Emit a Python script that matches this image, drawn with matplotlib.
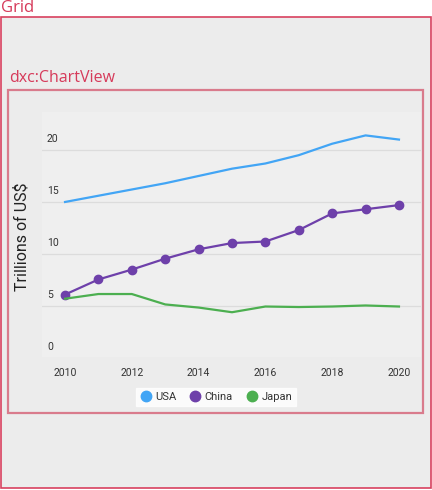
import matplotlib
matplotlib.use("Agg")
import matplotlib.pyplot as plt
from matplotlib.lines import Line2D
from matplotlib.patches import Rectangle
from matplotlib.transforms import ScaledTranslation, blended_transform_factory

# ── Data (trillions of US$) ───────────────────────────────────────────────
years = [2010, 2011, 2012, 2013, 2014, 2015, 2016, 2017, 2018, 2019, 2020]
usa = [15.0, 15.6, 16.2, 16.8, 17.5, 18.2, 18.7, 19.5, 20.6, 21.4, 21.0]
china = [6.1, 7.55, 8.5, 9.55, 10.45, 11.05, 11.2, 12.3, 13.9, 14.3, 14.7]
japan = [5.7, 6.15, 6.15, 5.15, 4.85, 4.4, 4.95, 4.9, 4.95, 5.05, 4.95]
y_ticks = [0, 5, 10, 15, 20]
x_ticks = [2010, 2012, 2014, 2016, 2018, 2020]

C_USA, C_CHINA, C_JAPAN = "#42a5f5", "#6e40aa", "#4caf50"
W, H = 432, 490


def fx(px):
    return px / W


def fy(py):
    return 1 - py / H


fig = plt.figure(figsize=(W / 100, H / 100), dpi=100)
fig.patch.set_facecolor("white")

# designer-style frames (kept under the axes)
fig.patches.append(Rectangle((fx(1), fy(488)), fx(430), 471 / H, transform=fig.transFigure,
                             facecolor="#ececec", edgecolor="#d8415f", linewidth=1.2,
                             zorder=-2))
fig.patches.append(Rectangle((fx(8), fy(413)), fx(415), 323 / H, transform=fig.transFigure,
                             facecolor="none", edgecolor="#d97b8c", linewidth=1.6,
                             zorder=-1))
fig.text(fx(1), fy(8), "Grid", color="#d63a5a", fontsize=12, family="Open Sans",
         va="center", ha="left")
fig.text(fx(9), fy(78), "dxc:ChartView", color="#d63a5a", fontsize=11.5, family="Open Sans",
         va="center", ha="left")

# ── Chart ────────────────────────────────────────────────────────────────
ax = fig.add_axes([fx(42), fy(358), fx(379), 246 / H])
ax.set_facecolor("#efefef")
for s in ax.spines.values():
    s.set_visible(False)

ax.plot(years, usa, color=C_USA, linewidth=1.6, solid_joinstyle="round")
ax.plot(years, china, color=C_CHINA, linewidth=1.6, marker="o", markersize=6)
ax.plot(years, japan, color=C_JAPAN, linewidth=1.6, solid_joinstyle="round")

ax.set_xlim(2009.31, 2020.66)
ax.set_ylim(0, 23.65)
ax.set_yticks(y_ticks)
ax.yaxis.grid(True, color="#dcdcdc", linewidth=0.9)
ax.set_axisbelow(True)
ax.tick_params(axis="y", length=0, labelleft=False)

# value labels sit just above their gridlines, inside the pane
trans = blended_transform_factory(ax.transAxes, ax.transData) + \
    ScaledTranslation(0, 11 / 100, fig.dpi_scale_trans)
for v in y_ticks:
    ax.text(0.013, v, str(v), transform=trans, ha="left", va="center",
            fontsize=7.5, family="Roboto", color="#333333")

ax.set_xticks(x_ticks)
ax.set_xticklabels([str(x) for x in x_ticks], fontsize=7.5, family="Roboto", color="#333333")
ax.tick_params(axis="x", length=0, pad=7)

fig.text(fx(22), fy(237), "Trillions of US$", rotation=90, fontsize=11.5, family="Roboto",
         color="#222222", ha="center", va="center")

handles = [Line2D([], [], linestyle="none", marker="o", markersize=7.5, color=c)
           for c in (C_USA, C_CHINA, C_JAPAN)]
leg = fig.legend(handles, ["USA", "China", "Japan"], loc="center",
                 bbox_to_anchor=(fx(216), fy(397)), ncol=3, frameon=True,
                 prop={"family": "Roboto", "size": 8}, handletextpad=0.35,
                 columnspacing=1.2, handlelength=1.0, borderpad=0.35, fancybox=False)
leg.get_frame().set_facecolor("white")
leg.get_frame().set_edgecolor("white")
for t in leg.get_texts():
    t.set_color("#333333")

fig.savefig("out.png", dpi=100)
